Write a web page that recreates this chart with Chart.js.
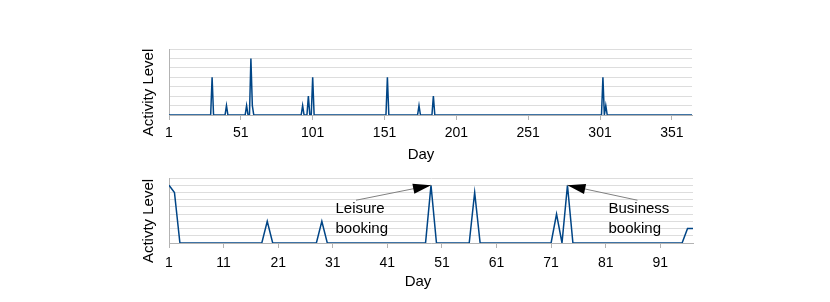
<!DOCTYPE html>
<html>
<head>
<meta charset="utf-8">
<script src="https://cdn.jsdelivr.net/npm/chart.js@4"></script>
<style>
  body { margin: 0; background: #fff; }
  #wrap { position: relative; width: 830px; height: 302px; }
  canvas { position: absolute; left: 0; }
</style>
</head>
<body>
<div id="wrap">
  <canvas id="topChart" width="830" height="165" style="top:0"></canvas>
  <canvas id="bottomChart" width="830" height="137" style="top:165px"></canvas>
</div>
<script>
// top chart: whole year, spikes only (all other days are 0)
const topDayCount = 365
const topDays = [31, 41, 55, 58, 59, 94, 98, 101, 153, 175, 185, 303, 305]
const topLevels = [4, 1, 1, 6, 1, 1, 2, 4, 4, 1, 2, 4, 1]
const topTicks = [1, 51, 101, 151, 201, 251, 301, 351]

// bottom chart: first 97 days
const bottomDayCount = 97
const bottomDays = [1, 2, 19, 29, 49, 57, 72, 74, 96, 97]
const bottomLevels = [8, 7, 3, 3, 8, 7, 4, 8, 2, 2]
const bottomTicks = [1, 11, 21, 31, 41, 51, 61, 71, 81, 91]

const notes = [
  { day: 49, lines: ['Leisure', 'booking'], side: 'left' },
  { day: 74, lines: ['Business', 'booking'], side: 'right' }
]

const FONT = "'Liberation Sans', Arial, sans-serif"
const LINE = '#004586'
const GRID = '#dddddd'
const AXIS = '#b3b3b3'

function series(count, days, levels) {
  let out = []
  for (let d = 1; d <= count; d++) {
    const k = days.indexOf(d)
    out.push({ x: d, y: k >= 0 ? levels[k] : 0 })
  }
  return out
}

// axis titles drawn by hand so they can sit where the original has them
function titles(yText, yCenter, xCenter, xBase) {
  return {
    id: 'titles',
    afterDraw(chart) {
      const ctx = chart.ctx
      ctx.save()
      ctx.fillStyle = '#000'
      ctx.font = '15px ' + FONT
      ctx.textAlign = 'center'
      ctx.textBaseline = 'middle'
      ctx.translate(148.5, yCenter)
      ctx.rotate(-Math.PI / 2)
      ctx.fillText(yText, 0, 0)
      ctx.restore()
      ctx.save()
      ctx.fillStyle = '#000'
      ctx.font = '15px ' + FONT
      ctx.textAlign = 'center'
      ctx.textBaseline = 'alphabetic'
      ctx.fillText('Day', xCenter, xBase)
      ctx.restore()
    }
  }
}

const arrows = {
  id: 'arrows',
  afterDatasetsDraw(chart) {
    const ctx = chart.ctx
    const xs = chart.scales.x, ys = chart.scales.y
    const data = chart.data.datasets[0].data
    notes.forEach(n => {
      const tx = xs.getPixelForValue(n.day)
      const ty = ys.getPixelForValue(data[n.day - 1].y)
      const left = n.side == 'left'
      const sx = left ? tx - 75 : tx + 70
      const sy = ty + 15
      ctx.save()
      ctx.strokeStyle = '#808080'
      ctx.lineWidth = 1
      ctx.beginPath()
      ctx.moveTo(sx, sy)
      ctx.lineTo(tx, ty)
      ctx.stroke()
      // arrow head
      const ang = Math.atan2(ty - sy, tx - sx)
      const len = 18, half = 5
      const bx = tx - len * Math.cos(ang), by = ty - len * Math.sin(ang)
      ctx.fillStyle = '#000'
      ctx.beginPath()
      ctx.moveTo(tx, ty)
      ctx.lineTo(bx + half * Math.sin(ang), by - half * Math.cos(ang))
      ctx.lineTo(bx - half * Math.sin(ang), by + half * Math.cos(ang))
      ctx.closePath()
      ctx.fill()
      // label
      ctx.font = '15px ' + FONT
      ctx.textAlign = 'left'
      ctx.textBaseline = 'alphabetic'
      const lx = left ? tx - 95.5 : tx + 41
      n.lines.forEach((t, i) => ctx.fillText(t, lx, ty + 28 + i * 19.5))
      ctx.restore()
    })
  }
}

function makeChart(id, data, yMax, xMax, ticks, pad, tickPad, extra) {
  return new Chart(document.getElementById(id), {
    type: 'line',
    data: {
      datasets: [{
        data: data,
        borderColor: LINE,
        borderWidth: 1.5,
        pointRadius: 0,
        tension: 0,
        fill: false
      }]
    },
    options: {
      responsive: false,
      animation: false,
      layout: { padding: pad },
      plugins: { legend: { display: false }, tooltip: { enabled: false } },
      scales: {
        x: {
          type: 'linear',
          min: 1,
          max: xMax,
          afterBuildTicks: s => { s.ticks = ticks.map(v => ({ value: v })) },
          afterFit: s => { s.height = 40 },
          grid: { drawOnChartArea: false, drawTicks: true, tickLength: 5, color: AXIS },
          border: { color: AXIS },
          ticks: {
            autoSkip: false, maxRotation: 0, padding: tickPad,
            color: '#000', font: { family: FONT, size: 14 }
          }
        },
        y: {
          min: 0,
          max: yMax,
          afterFit: s => { s.width = 0 },
          ticks: { display: false, stepSize: 1 },
          grid: { color: GRID, drawTicks: false },
          border: { color: AXIS }
        }
      }
    },
    plugins: extra
  })
}

makeChart('topChart', series(topDayCount, topDays, topLevels), 7, topDayCount, topTicks,
  { left: 169, right: 138, top: 49, bottom: 10 }, 5,
  [titles('Activity Level', 92.5, 421, 159)])

makeChart('bottomChart', series(bottomDayCount, bottomDays, bottomLevels), 9, bottomDayCount, bottomTicks,
  { left: 169, right: 137, top: 13, bottom: 19 }, 7,
  [titles('Activty Level', 56, 418, 120.5), arrows])
</script>
</body>
</html>
